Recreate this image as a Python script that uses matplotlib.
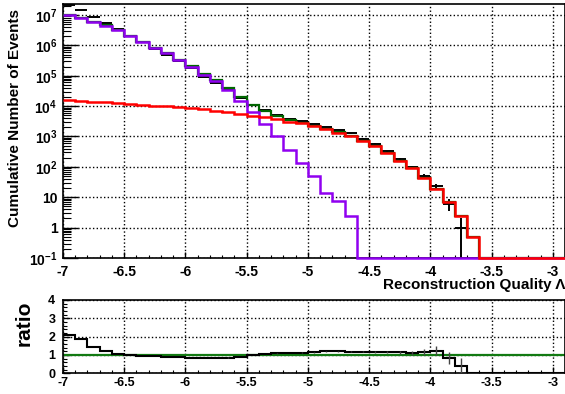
import numpy as np
import matplotlib
matplotlib.use("Agg")
import matplotlib.pyplot as plt
from matplotlib.ticker import FixedLocator, MultipleLocator, LogLocator, NullFormatter, FuncFormatter

plt.rcParams['font.family'] = ['Liberation Sans', 'DejaVu Sans']
plt.rcParams['font.weight'] = 'bold'
plt.rcParams['mathtext.fontset'] = 'custom'
plt.rcParams['mathtext.rm'] = 'Liberation Sans:bold'
plt.rcParams['mathtext.bf'] = 'Liberation Sans:bold'
plt.rcParams['mathtext.default'] = 'rm'

# bin edges of the reconstruction quality (0.1 wide)
edges = np.round(np.linspace(-7.0, -2.9, 42), 2)

# cumulative counts per bin
background = [1.0e7, 7.8e6, 6.0e6, 4.5e6, 3.2e6, 2.1e6, 1.3e6, 8.3e5, 5.5e5, 3.3e5,
              2.0e5, 1.07e5, 6.5e4, 3.4e4, 1.5e4, 6300, 2500, 1000, 360, 130,
              50, 13.5, 7.8, 2.4, 0, 0, 0, 0, 0, 0,
              0, 0, 0, 0, 0, 0, 0, 0, 0, 0, 0]
signal = [15800, 15100, 14100, 13500, 12600, 11700, 11000, 10200, 9800, 9100,
          8500, 7900, 6900, 6300, 5600, 4900, 4400, 3700, 3100, 2750,
          2200, 1700, 1350, 1070, 710, 490, 280, 160, 91, 43,
          18.6, 7.2, 2.4, 0.51, 0, 0, 0, 0, 0, 0, 0]
data = [20830000, 14460000, 8600000, 5460000, 3440000, 2090000, 1245000, 773000, 498000, 295000,
        179000, 94200, 59000, 34700, 18700, 11100, 7180, 5120, 3840, 3250,
        2570, 2070, 1640, 1265, 838, 578, 322, 184, 99, 51,
        23, 6, 1, 0, 0, 0, 0, 0, 0, 0, 0]

xticks = [-7, -6.5, -6, -5.5, -5, -4.5, -4, -3.5, -3]
ydecades = [0.1, 1, 10, 1e2, 1e3, 1e4, 1e5, 1e6, 1e7]
ylabels = ['10$^{-1}$', '1', '10', '10$^{2}$', '10$^{3}$', '10$^{4}$',
           '10$^{5}$', '10$^{6}$', '10$^{7}$']

bkg = np.array(background)
sig = np.array(signal)
dat = np.array(data, dtype=float)
mc = bkg + sig
ymin, ymax = 0.1, 2.3e7
centers = 0.5 * (edges[:-1] + edges[1:])

fig = plt.figure(figsize=(5.65, 3.94), dpi=100)
ax = fig.add_axes([63/565, 1 - 258/394, 1 - 63/565, 254/394])
rax = fig.add_axes([63/565, 1 - 373.3/394, 1 - 63/565, 73.3/394])

# main panel
ok = dat > 0
ax.errorbar(centers[ok], dat[ok], xerr=0.05, yerr=np.sqrt(dat[ok]),
            fmt='none', ecolor='black', elinewidth=1.4, zorder=3)
ax.stairs(np.maximum(mc, ymin), edges, color='#006600', lw=1.6, baseline=None, zorder=4)
ax.stairs(np.maximum(bkg, ymin), edges, color='#9000f0', lw=1.8, baseline=None, zorder=5,
          clip_on=False)
ax.stairs(np.maximum(sig, ymin), edges, color='#ff0000', lw=1.8, baseline=None, zorder=6,
          clip_on=False)

ax.set_yscale('log')
ax.set_xlim(-7, -2.9)
ax.set_ylim(ymin, ymax)
ax.yaxis.set_major_locator(FixedLocator(ydecades))
ax.yaxis.set_major_formatter(FuncFormatter(lambda v, p: ylabels[ydecades.index(v)] if v in ydecades else ''))
ax.yaxis.set_minor_locator(LogLocator(base=10, subs=range(2, 10), numticks=20))
ax.yaxis.set_minor_formatter(NullFormatter())
ax.xaxis.set_major_locator(FixedLocator(xticks))
ax.xaxis.set_major_formatter(FuncFormatter(lambda v, p: '%g' % v))
ax.xaxis.set_minor_locator(MultipleLocator(0.1))
ax.tick_params(axis='y', which='major', direction='in', length=10.5, width=1, labelsize=10, pad=4)
ax.tick_params(axis='y', which='minor', direction='in', length=5.5, width=0.8)
ax.tick_params(axis='x', which='major', direction='in', length=4.5, width=1, labelsize=10, pad=5)
ax.tick_params(axis='x', which='minor', direction='in', length=2.5, width=0.8)
ax.grid(True, which='major', ls=':', color='black', lw=1)
for s in ax.spines.values():
    s.set_linewidth(1.2)

# ratio panel
ratio = np.where(mc > 0, dat / np.where(mc > 0, mc, 1), 0)
rerr = np.where(dat > 0, ratio / np.sqrt(np.maximum(dat, 1)), 0)
rax.axhline(1, color='#127a12', lw=1.6, zorder=2)
rax.stairs(ratio, edges, color='black', lw=1.5, baseline=None, zorder=3)
rax.errorbar(centers[ok], ratio[ok], yerr=rerr[ok], fmt='none', ecolor='#444444',
             elinewidth=1, zorder=3)
rax.set_xlim(-7, -2.9)
rax.set_ylim(0, 4)
rax.xaxis.set_major_locator(FixedLocator(xticks))
rax.xaxis.set_major_formatter(FuncFormatter(lambda v, p: '%g' % v))
rax.xaxis.set_minor_locator(MultipleLocator(0.1))
rax.yaxis.set_major_locator(MultipleLocator(1))
rax.yaxis.set_minor_locator(MultipleLocator(0.2))
rax.tick_params(axis='y', which='major', direction='in', length=5, width=1, labelsize=9, pad=5.5)
rax.tick_params(axis='y', which='minor', direction='in', length=3, width=0.8)
rax.tick_params(axis='x', which='major', direction='in', length=4, width=1, labelsize=9, pad=3)
rax.tick_params(axis='x', which='minor', direction='in', length=2, width=0.8)
rax.grid(True, which='major', ls=':', color='black', lw=1)
for s in rax.spines.values():
    s.set_linewidth(1.2)

fig.text(1.0, 1 - 289/394, 'Reconstruction Quality Λ', ha='right', va='baseline',
         fontsize=11, fontweight='bold')
fig.text(0.026, 1 - 118/394, 'Cumulative Number of Events', rotation=90,
         ha='center', va='center', fontsize=11, fontweight='bold')
fig.text(0.043, 1 - 323/394, 'ratio', rotation=90, ha='center', va='center',
         fontsize=15, fontweight='bold')

fig.savefig('out.png', dpi=100)
